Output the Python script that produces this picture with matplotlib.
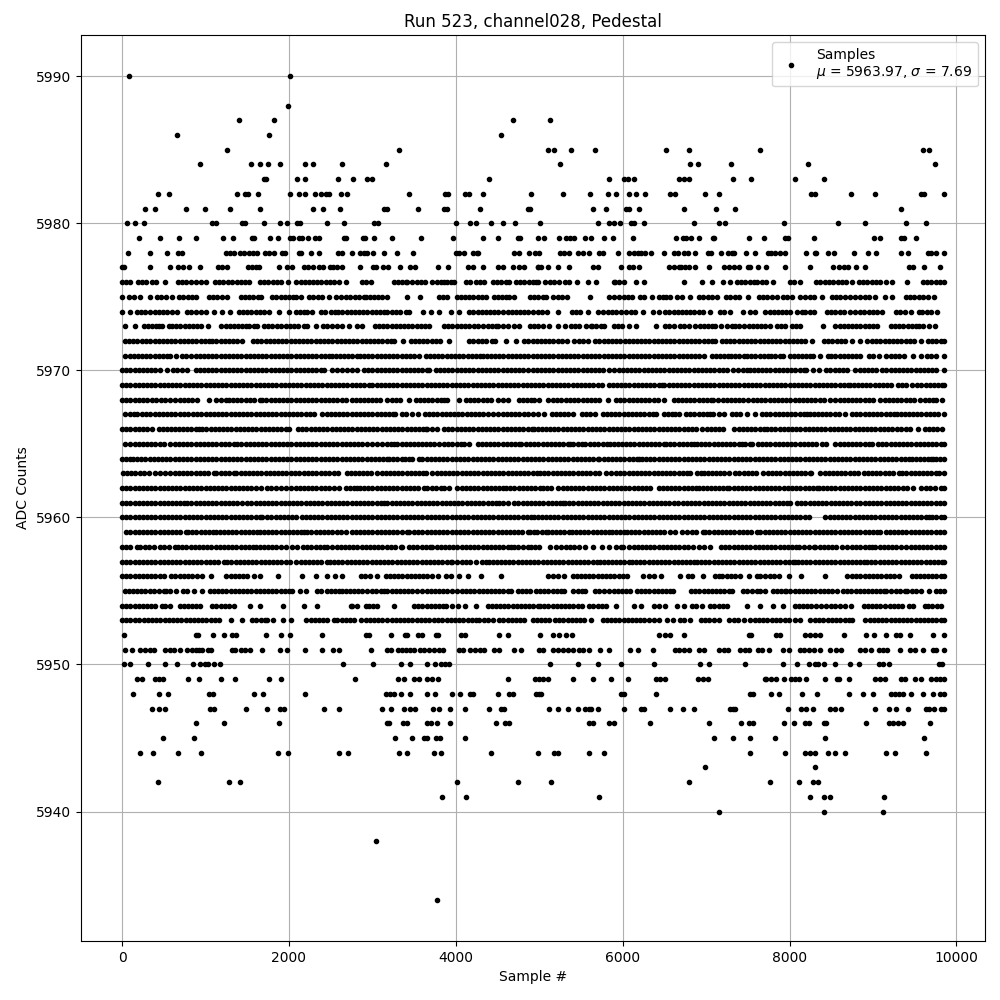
import matplotlib
matplotlib.use("Agg")
import matplotlib.pyplot as plt

# x positions of the samples at each ADC level,
# in tens of samples.
y5990 = [8, 201]
y5988 = [199]
y5987 = [140, 182, 469, 513]
y5986 = [66, 176, 454]
y5985 = [126, 332, 511, 518, 538, 567, 652, 680, 764, 960, 967]
y5984 = [93, 154, 165, 175, 189, 219, 229, 264, 316, 525, 681, 690, 730, 822, 974]
y5983 = [170, 173, 210, 219, 259, 277, 294, 300, 440, 584, 601, 606, 614, 668, 673, 679, 732, 754, 806, 841]
y5982 = [43, 56, 138, 147, 151, 163, 201, 212, 219, 231, 238, 244, 248, 262, 270, 344, 387, 391, 411, 416, 432, 490, 529, 561, 582, 592, 608, 616, 627, 657, 663, 699, 715, 826, 831, 874, 903, 957, 961, 985]
y5981 = [28, 39, 76, 99, 129, 165, 229, 241, 261, 314, 318, 355, 386, 390, 429, 487, 489, 564, 580, 604, 608, 620, 674, 712, 735, 933]
y5980 = [6, 15, 26, 108, 112, 144, 147, 170, 189, 198, 210, 213, 246, 266, 302, 307, 400, 417, 424, 442, 456, 471, 501, 571, 584, 589, 597, 610, 613, 625, 685, 716, 723, 793, 858, 891, 940, 964]
y5979 = [20, 45, 68, 88, 121, 133, 156, 158, 177, 187, 201, 205, 212, 216, 223, 231, 236, 266, 268, 289, 291, 302, 324, 358, 397, 432, 451, 475, 477, 499, 506, 524, 532, 537, 542, 555, 562, 578, 588, 612, 664, 672, 676, 682, 691, 708, 710, 751, 769, 795, 798, 829, 901, 908, 933, 937, 952]
y5978 = [7, 34, 54, 67, 72, 124, 129, 134, 141, 146, 152, 157, 162, 171, 176, 182, 192, 195, 212, 214, 226, 236, 259, 264, 276, 285, 290, 294, 301, 314, 330, 349, 400, 404, 410, 420, 425, 427, 470, 476, 488, 495, 500, 525, 530, 536, 547, 552, 560, 572, 576, 594, 608, 613, 618, 622, 627, 634, 650, 661, 666, 673, 678, 687, 702, 706, 718, 726, 731, 734, 748, 758, 774, 778, 783, 788, 794, 820, 830, 832, 846, 853, 877, 894, 904, 934, 942, 966, 970, 975, 985]
y5977 = [0, 2, 34, 57, 67, 73, 80, 93, 115, 120, 126, 151, 156, 160, 164, 188, 198, 204, 218, 223, 229, 236, 241, 249, 253, 258, 264, 285, 301, 304, 313, 319, 333, 345, 351, 379, 391, 415, 420, 433, 450, 456, 468, 476, 482, 498, 499, 502, 511, 522, 536, 565, 571, 598, 607, 612, 619, 656, 661, 667, 670, 675, 680, 687, 703, 722, 728, 734, 740, 750, 752, 762, 772, 794, 824, 852, 859, 865, 870, 880, 891, 943, 948, 961, 980]

y5976 = [0, 5, 10, 19, 24, 29, 36, 41, 51, 67, 72, 77, 83, 88, 94, 101, 111, 116, 121, 127, 132, 138, 142, 147, 152, 165, 170, 175, 181, 186, 190, 199, 209, 214, 219, 224, 229, 234, 238, 244, 249, 254, 260, 268, 287, 292, 298, 326, 331, 336, 340, 342, 348, 353, 358, 363, 372, 377, 382, 386, 390, 394, 398, 412, 417, 424, 429, 434, 444, 449, 454, 460, 464, 472, 477, 482, 488, 492, 496, 499, 507, 513, 518, 524, 531, 536, 545, 559, 568, 589, 591, 596, 602, 616, 626, 673, 695, 707, 720, 729, 737, 742, 747, 752, 757, 761, 767, 772, 780, 800, 805, 813, 832, 837, 842, 847, 852, 858, 863, 868, 875, 883, 888, 893, 899, 904, 909, 915, 923, 941, 960, 965, 970, 975, 980, 985]
y5975 = [0, 8, 14, 22, 33, 42, 47, 53, 60, 68, 73, 79, 84, 88, 104, 109, 114, 120, 126, 142, 147, 152, 157, 163, 166, 180, 185, 190, 195, 200, 205, 209, 214, 224, 229, 235, 240, 248, 256, 262, 268, 273, 279, 284, 290, 292, 297, 302, 307, 312, 318, 342, 357, 380, 385, 390, 401, 406, 411, 416, 421, 426, 431, 436, 446, 450, 455, 460, 464, 470, 489, 494, 499, 504, 508, 517, 522, 527, 533, 561, 584, 590, 595, 601, 606, 611, 621, 625, 635, 644, 648, 652, 657, 665, 671, 681, 691, 696, 702, 707, 713, 724, 729, 735, 740, 750, 763, 768, 773, 779, 785, 792, 797, 803, 813, 818, 824, 829, 839, 851, 856, 861, 866, 872, 879, 885, 890, 895, 902, 914, 923, 939, 944, 949, 955, 960, 966, 973]
y5974 = [0, 9, 18, 23, 28, 34, 39, 44, 49, 54, 60, 66, 78, 83, 88, 95, 100, 110, 120, 129, 140, 145, 150, 155, 160, 165, 170, 176, 188, 200, 208, 213, 218, 222, 228, 238, 243, 250, 255, 259, 264, 269, 274, 279, 284, 289, 294, 299, 304, 309, 314, 318, 323, 328, 333, 340, 344, 361, 370, 380, 394, 404, 416, 421, 426, 431, 436, 441, 446, 451, 456, 462, 467, 472, 477, 482, 487, 492, 498, 503, 509, 523, 539, 544, 549, 559, 571, 576, 582, 587, 592, 598, 604, 610, 615, 624, 636, 643, 651, 656, 661, 666, 671, 676, 681, 686, 691, 696, 705, 717, 722, 729, 744, 752, 759, 771, 776, 781, 786, 791, 796, 801, 809, 815, 819, 824, 829, 845, 850, 855, 860, 865, 873, 879, 884, 889, 895, 900, 905, 911, 927, 932, 938, 946, 955, 959, 965, 970, 977]
y5973 = [4, 15, 26, 31, 36, 41, 44, 48, 56, 60, 65, 70, 75, 80, 85, 90, 95, 103, 119, 124, 129, 134, 139, 144, 148, 152, 158, 162, 170, 180, 175, 186, 191, 196, 201, 206, 211, 218, 222, 233, 241, 246, 252, 258, 264, 272, 282, 288, 303, 308, 313, 318, 323, 328, 333, 338, 343, 348, 353, 358, 363, 368, 386, 391, 396, 401, 406, 411, 416, 422, 427, 432, 438, 443, 448, 450, 456, 462, 470, 476, 489, 494, 499, 505, 512, 522, 531, 538, 543, 548, 556, 562, 563, 568, 574, 578, 589, 594, 599, 607, 616, 640, 651, 656, 662, 669, 673, 679, 687, 693, 697, 702, 707, 711, 718, 725, 731, 735, 740, 745, 751, 756, 761, 766, 771, 776, 785, 790, 795, 803, 808, 813, 840, 855, 860, 865, 870, 875, 880, 885, 890, 895, 900, 905, 921, 926, 931, 936, 942, 947, 952, 955, 960, 967, 974]
y5972 = [3, 8, 13, 18, 24, 29, 34, 39, 44, 49, 54, 59, 64, 69, 74, 79, 84, 89, 94, 99, 104, 108, 113, 118, 123, 128, 133, 138, 144, 157, 162, 167, 172, 177, 182, 187, 192, 197, 202, 207, 212, 217, 222, 227, 232, 237, 242, 247, 252, 257, 262, 267, 272, 277, 282, 287, 292, 297, 302, 307, 312, 317, 322, 326, 337, 346, 351, 356, 361, 366, 371, 376, 381, 392, 416, 421, 426, 431, 436, 443, 447, 460, 472, 482, 487, 492, 497, 502, 507, 512, 517, 522, 527, 533, 542, 548, 552, 559, 567, 572, 577, 582, 587, 592, 597, 603, 607, 612, 617, 622, 627, 632, 637, 642, 647, 652, 657, 662, 667, 672, 677, 682, 687, 692, 697, 702, 707, 711, 719, 724, 729, 734, 739, 744, 749, 754, 759, 764, 769, 774, 779, 784, 789, 794, 799, 804, 809, 814, 819, 827, 841, 846, 851, 857, 862, 867, 875, 885, 893, 899, 904, 909, 914, 919, 924, 929, 934, 939, 944, 949, 957, 966, 971, 976, 981, 985]
y5971 = [4, 9, 14, 19, 24, 29, 34, 39, 44, 49, 54, 58, 65, 72, 77, 83, 88, 93, 98, 103, 108, 113, 118, 123, 128, 133, 138, 143, 148, 153, 158, 163, 168, 173, 178, 183, 188, 193, 198, 203, 208, 213, 218, 223, 228, 233, 238, 243, 248, 252, 256, 261, 266, 271, 276, 281, 285, 290, 295, 300, 305, 310, 315, 320, 325, 330, 335, 340, 345, 350, 356, 364, 369, 374, 379, 384, 389, 394, 399, 404, 409, 414, 419, 424, 429, 432, 437, 442, 447, 452, 457, 462, 467, 472, 477, 482, 487, 492, 497, 502, 507, 512, 517, 522, 527, 532, 537, 542, 547, 552, 557, 562, 567, 572, 577, 582, 587, 592, 597, 602, 607, 612, 617, 622, 627, 632, 637, 642, 647, 652, 657, 662, 667, 672, 677, 682, 687, 692, 697, 707, 712, 717, 722, 726, 730, 735, 740, 745, 749, 754, 759, 764, 769, 774, 778, 782, 788, 792, 800, 805, 810, 815, 820, 824, 828, 837, 846, 850, 855, 860, 865, 870, 875, 880, 885, 895, 900, 907, 916, 921, 926, 931, 937, 948, 957, 965, 970, 975, 985]
y5970 = [0, 5, 10, 15, 20, 25, 30, 35, 40, 45, 54, 61, 66, 72, 78, 88, 93, 98, 103, 108, 113, 118, 123, 128, 133, 138, 143, 148, 153, 158, 163, 168, 173, 178, 183, 188, 193, 198, 203, 208, 213, 218, 223, 228, 233, 238, 242, 251, 258, 264, 270, 276, 282, 290, 295, 300, 305, 310, 315, 320, 325, 330, 335, 340, 345, 350, 355, 360, 365, 368, 376, 381, 386, 391, 396, 401, 406, 411, 416, 421, 426, 431, 436, 441, 446, 451, 456, 461, 466, 471, 476, 481, 486, 492, 497, 502, 507, 512, 517, 522, 527, 532, 537, 542, 547, 552, 557, 562, 567, 572, 576, 584, 590, 595, 600, 605, 610, 615, 620, 625, 630, 635, 640, 645, 650, 655, 660, 665, 670, 675, 680, 685, 690, 695, 700, 705, 710, 715, 720, 725, 732, 738, 744, 749, 752, 757, 762, 767, 772, 777, 782, 787, 792, 797, 802, 807, 812, 817, 820, 828, 835, 844, 849, 854, 859, 864, 869, 879, 884, 889, 894, 899, 904, 911, 916, 921, 926, 931, 936, 941, 946, 951, 956, 961, 966, 971, 976, 985]
y5969 = [0, 5, 10, 15, 20, 25, 30, 35, 40, 45, 50, 55, 60, 65, 70, 75, 80, 85, 90, 95, 100, 105, 110, 115, 120, 125, 130, 135, 140, 145, 150, 155, 160, 165, 170, 175, 180, 185, 190, 195, 200, 205, 210, 215, 220, 225, 230, 235, 240, 245, 250, 255, 260, 265, 270, 275, 280, 285, 290, 296, 300, 305, 310, 315, 320, 325, 330, 335, 340, 345, 350, 355, 360, 365, 370, 375, 380, 385, 390, 395, 400, 405, 410, 415, 420, 425, 430, 435, 440, 445, 450, 455, 460, 465, 470, 475, 480, 485, 490, 495, 500, 505, 510, 515, 520, 525, 530, 535, 540, 545, 550, 555, 560, 565, 570, 575, 583, 588, 593, 598, 603, 608, 613, 618, 623, 628, 633, 638, 643, 647, 650, 655, 660, 665, 670, 675, 680, 685, 690, 695, 700, 705, 710, 715, 720, 725, 730, 735, 740, 745, 750, 755, 760, 765, 770, 775, 780, 785, 790, 795, 800, 805, 810, 815, 820, 825, 830, 835, 840, 845, 850, 855, 860, 865, 870, 873, 877, 882, 887, 892, 897, 902, 907, 912, 917, 922, 930, 935, 940, 947, 953, 958, 963, 968, 973, 978, 983, 985]
y5968 = [0, 5, 10, 15, 20, 25, 30, 36, 41, 47, 52, 58, 64, 69, 74, 79, 84, 90, 104, 112, 118, 124, 128, 133, 138, 143, 148, 153, 158, 165, 168, 173, 178, 183, 188, 193, 198, 203, 208, 213, 218, 223, 228, 233, 238, 243, 248, 253, 258, 263, 268, 276, 280, 285, 290, 295, 300, 304, 309, 318, 323, 328, 333, 344, 352, 357, 362, 367, 372, 377, 382, 386, 390, 404, 412, 417, 422, 427, 432, 437, 442, 450, 456, 462, 476, 480, 485, 490, 494, 500, 511, 516, 521, 526, 532, 537, 542, 547, 552, 557, 562, 567, 572, 582, 592, 597, 602, 607, 612, 617, 622, 627, 632, 637, 642, 649, 662, 666, 671, 676, 681, 686, 691, 696, 701, 706, 708, 714, 720, 725, 730, 735, 739, 744, 750, 756, 761, 766, 771, 776, 781, 786, 791, 796, 801, 806, 811, 816, 821, 826, 831, 836, 841, 849, 855, 860, 865, 870, 875, 880, 885, 890, 895, 900, 909, 914, 919, 924, 929, 934, 939, 944, 949, 956, 962, 967, 972, 976, 983]
y5967 = [4, 9, 14, 18, 24, 29, 34, 39, 44, 49, 54, 59, 64, 69, 74, 79, 85, 90, 95, 100, 105, 110, 115, 120, 125, 130, 135, 140, 145, 150, 155, 160, 165, 170, 175, 180, 185, 190, 195, 200, 205, 210, 215, 220, 225, 230, 240, 245, 250, 255, 260, 265, 270, 275, 280, 285, 290, 295, 300, 305, 310, 315, 320, 325, 327, 335, 340, 348, 355, 363, 368, 373, 378, 383, 388, 393, 398, 403, 408, 413, 418, 423, 428, 433, 438, 445, 451, 456, 461, 466, 471, 476, 482, 487, 493, 498, 506, 515, 520, 525, 530, 535, 540, 551, 556, 561, 567, 576, 581, 586, 591, 596, 601, 606, 611, 616, 621, 626, 631, 636, 640, 649, 654, 659, 663, 668, 676, 681, 686, 691, 696, 701, 705, 708, 716, 722, 731, 736, 741, 749, 759, 767, 772, 777, 782, 787, 792, 797, 802, 807, 812, 817, 821, 824, 829, 834, 839, 844, 849, 854, 859, 867, 875, 880, 885, 890, 895, 900, 905, 910, 915, 920, 925, 929, 933, 938, 943, 948, 953, 958, 963, 968, 973, 978, 985]
y5966 = [0, 5, 10, 15, 20, 25, 30, 36, 44, 49, 54, 59, 64, 68, 73, 78, 83, 88, 92, 96, 101, 106, 111, 116, 121, 126, 131, 136, 141, 146, 151, 156, 161, 166, 171, 176, 181, 186, 191, 196, 200, 211, 216, 221, 226, 231, 236, 241, 246, 251, 256, 261, 266, 271, 276, 281, 286, 291, 296, 301, 306, 311, 316, 321, 326, 331, 336, 341, 346, 351, 356, 361, 364, 366, 371, 378, 386, 391, 396, 401, 406, 411, 416, 421, 426, 431, 436, 441, 446, 451, 456, 461, 466, 471, 476, 480, 486, 491, 494, 498, 503, 508, 513, 518, 523, 528, 533, 538, 543, 548, 553, 558, 563, 568, 573, 578, 583, 588, 593, 598, 603, 608, 613, 618, 623, 628, 633, 638, 643, 648, 653, 658, 663, 668, 673, 678, 683, 688, 695, 701, 706, 711, 716, 720, 734, 739, 744, 749, 754, 759, 764, 769, 773, 778, 783, 788, 793, 798, 803, 808, 813, 818, 823, 828, 833, 838, 843, 848, 853, 858, 863, 868, 873, 878, 883, 888, 893, 898, 903, 908, 913, 918, 923, 929, 934, 939, 944, 954, 962, 967, 972, 977, 983]
y5965 = [4, 10, 16, 20, 25, 30, 35, 40, 45, 50, 58, 63, 68, 73, 78, 83, 88, 93, 98, 103, 108, 113, 118, 123, 128, 134, 138, 143, 148, 153, 158, 163, 168, 173, 178, 183, 188, 193, 198, 203, 208, 213, 218, 223, 228, 233, 238, 243, 248, 253, 258, 263, 268, 273, 278, 283, 288, 294, 299, 306, 312, 317, 322, 326, 330, 335, 340, 345, 350, 355, 360, 364, 369, 374, 380, 386, 391, 396, 401, 406, 410, 416, 426, 431, 436, 441, 446, 451, 456, 461, 466, 471, 476, 478, 484, 489, 494, 499, 504, 509, 514, 519, 524, 529, 534, 537, 541, 546, 551, 555, 561, 566, 571, 576, 581, 585, 589, 594, 599, 604, 609, 614, 619, 624, 629, 634, 639, 644, 649, 652, 657, 662, 667, 672, 677, 682, 685, 689, 694, 699, 704, 709, 714, 719, 724, 729, 734, 739, 743, 747, 752, 755, 762, 767, 772, 777, 782, 787, 792, 797, 802, 807, 812, 817, 822, 827, 832, 839, 844, 855, 860, 865, 870, 875, 880, 885, 890, 895, 899, 906, 911, 916, 921, 926, 931, 936, 941, 946, 951, 956, 961, 966, 971, 976, 981, 985]
y5964 = [0, 5, 10, 13, 18, 23, 28, 33, 38, 43, 48, 53, 58, 63, 68, 73, 78, 83, 88, 93, 98, 103, 108, 113, 118, 123, 128, 133, 138, 143, 148, 153, 158, 163, 168, 173, 178, 183, 188, 193, 198, 203, 208, 213, 218, 223, 228, 233, 238, 243, 248, 253, 258, 263, 268, 273, 278, 283, 288, 293, 298, 303, 308, 313, 318, 320, 325, 330, 335, 339, 344, 348, 356, 360, 365, 370, 375, 380, 385, 390, 395, 400, 405, 410, 415, 420, 425, 430, 435, 440, 445, 450, 455, 460, 465, 470, 475, 480, 485, 490, 495, 500, 505, 510, 515, 520, 525, 530, 535, 540, 545, 550, 555, 560, 565, 570, 572, 577, 582, 587, 592, 597, 602, 607, 612, 617, 620, 623, 628, 633, 638, 643, 648, 653, 658, 663, 668, 673, 678, 683, 688, 693, 698, 703, 708, 713, 718, 723, 728, 733, 738, 743, 748, 753, 758, 763, 768, 773, 778, 783, 788, 793, 798, 803, 808, 813, 818, 823, 828, 833, 838, 843, 848, 853, 858, 863, 868, 873, 878, 883, 888, 893, 898, 903, 908, 913, 918, 923, 928, 933, 938, 943, 947, 951, 956, 961, 966, 969, 972, 976, 980, 985]
y5963 = [1, 6, 11, 16, 21, 26, 32, 40, 45, 52, 58, 63, 68, 73, 78, 83, 88, 93, 98, 103, 110, 113, 118, 123, 128, 134, 137, 142, 147, 152, 157, 162, 167, 172, 177, 182, 187, 192, 197, 202, 207, 212, 218, 223, 228, 233, 238, 243, 248, 254, 259, 269, 274, 279, 284, 289, 294, 298, 306, 311, 316, 321, 326, 331, 336, 341, 346, 351, 356, 361, 364, 372, 377, 382, 387, 392, 397, 402, 407, 412, 417, 422, 427, 432, 437, 442, 447, 452, 457, 462, 467, 472, 477, 482, 487, 492, 497, 501, 506, 511, 516, 521, 526, 531, 536, 541, 546, 551, 556, 561, 567, 572, 580, 586, 592, 597, 602, 607, 612, 617, 622, 627, 632, 637, 642, 647, 652, 657, 662, 667, 672, 677, 681, 689, 694, 697, 702, 707, 712, 717, 722, 728, 735, 740, 745, 750, 755, 760, 768, 774, 779, 784, 789, 794, 799, 804, 809, 814, 819, 824, 826, 837, 842, 847, 852, 857, 862, 867, 872, 877, 882, 889, 894, 899, 904, 909, 914, 919, 924, 931, 935, 940, 945, 950, 955, 960, 965, 970, 975, 979, 985]
y5962 = [0, 5, 10, 15, 20, 25, 30, 35, 40, 45, 50, 55, 60, 65, 70, 75, 80, 85, 90, 95, 100, 105, 110, 115, 120, 125, 130, 135, 140, 145, 150, 155, 160, 166, 174, 179, 184, 190, 197, 203, 208, 213, 218, 223, 228, 233, 238, 243, 248, 254, 260, 268, 273, 278, 282, 285, 290, 295, 300, 305, 310, 315, 320, 325, 330, 335, 340, 345, 350, 355, 362, 366, 371, 376, 382, 386, 392, 401, 407, 412, 417, 422, 427, 432, 437, 442, 447, 452, 456, 460, 465, 470, 476, 480, 485, 490, 495, 501, 504, 509, 514, 523, 528, 533, 538, 543, 548, 553, 558, 563, 568, 573, 578, 583, 588, 593, 598, 603, 608, 613, 618, 623, 628, 633, 643, 648, 653, 658, 663, 668, 673, 678, 683, 688, 692, 696, 701, 706, 711, 716, 720, 725, 728, 733, 738, 743, 748, 753, 758, 763, 768, 773, 778, 783, 787, 793, 798, 803, 808, 813, 818, 823, 828, 833, 835, 840, 845, 850, 855, 860, 865, 870, 875, 880, 885, 890, 895, 900, 905, 910, 915, 920, 925, 930, 936, 941, 948, 958, 963, 968, 974, 982, 985]
y5961 = [0, 5, 10, 15, 20, 25, 30, 35, 40, 45, 50, 55, 60, 65, 70, 74, 78, 83, 88, 93, 98, 103, 108, 113, 118, 123, 128, 133, 138, 144, 150, 155, 160, 165, 170, 175, 180, 185, 190, 195, 200, 205, 210, 215, 220, 225, 230, 235, 240, 245, 250, 255, 260, 265, 270, 275, 280, 285, 290, 295, 300, 305, 310, 314, 318, 323, 328, 333, 338, 343, 348, 353, 358, 363, 368, 373, 378, 383, 388, 393, 398, 403, 408, 413, 418, 423, 428, 433, 438, 443, 448, 452, 456, 462, 470, 475, 480, 485, 490, 495, 500, 505, 510, 515, 520, 525, 528, 531, 536, 541, 546, 551, 556, 561, 566, 571, 576, 581, 586, 591, 596, 601, 606, 611, 616, 621, 626, 631, 636, 641, 646, 651, 656, 661, 666, 672, 677, 682, 687, 692, 697, 702, 707, 712, 717, 722, 727, 732, 737, 742, 747, 752, 757, 762, 767, 772, 777, 782, 787, 792, 797, 801, 809, 814, 819, 824, 829, 834, 839, 844, 850, 854, 859, 864, 869, 874, 880, 885, 890, 895, 900, 905, 910, 915, 920, 925, 930, 935, 940, 945, 950, 955, 960, 965, 970, 975, 980, 985]
y5960 = [0, 5, 10, 15, 20, 25, 30, 35, 40, 45, 50, 55, 60, 65, 70, 75, 80, 85, 90, 95, 100, 105, 110, 115, 120, 125, 130, 135, 140, 145, 150, 155, 160, 165, 168, 174, 179, 184, 189, 194, 199, 204, 209, 216, 220, 225, 230, 235, 240, 245, 250, 255, 260, 265, 270, 275, 280, 285, 290, 295, 300, 305, 310, 315, 320, 325, 330, 335, 340, 345, 350, 355, 360, 365, 370, 375, 380, 385, 390, 395, 400, 405, 410, 415, 420, 425, 430, 435, 440, 445, 450, 455, 460, 465, 470, 475, 480, 485, 490, 494, 498, 503, 508, 513, 518, 523, 528, 533, 538, 543, 548, 553, 558, 563, 568, 573, 578, 583, 588, 593, 598, 603, 608, 613, 618, 623, 628, 633, 638, 643, 648, 653, 658, 663, 668, 673, 678, 683, 688, 693, 698, 703, 708, 713, 718, 723, 728, 733, 738, 743, 748, 753, 758, 763, 768, 773, 778, 783, 788, 793, 798, 803, 808, 813, 818, 823, 843, 848, 853, 858, 863, 868, 873, 878, 883, 888, 893, 898, 903, 908, 913, 918, 923, 928, 933, 938, 943, 948, 953, 958, 963, 967, 971, 976, 981, 985]
y5959 = [5, 10, 15, 20, 25, 30, 35, 40, 45, 50, 55, 60, 65, 70, 76, 79, 84, 89, 94, 99, 104, 109, 112, 117, 122, 127, 132, 137, 142, 147, 152, 157, 162, 165, 170, 175, 180, 185, 190, 195, 200, 205, 210, 215, 218, 222, 227, 232, 237, 242, 247, 252, 257, 262, 268, 275, 280, 285, 290, 295, 300, 305, 310, 315, 320, 325, 330, 335, 342, 344, 350, 355, 360, 365, 370, 375, 380, 385, 390, 395, 400, 405, 410, 415, 420, 425, 430, 435, 440, 445, 450, 455, 460, 465, 470, 474, 479, 486, 489, 494, 497, 503, 508, 511, 515, 520, 525, 530, 536, 539, 544, 549, 554, 559, 564, 569, 574, 579, 583, 587, 592, 597, 601, 605, 610, 615, 620, 625, 630, 635, 640, 645, 650, 657, 663, 671, 677, 683, 688, 696, 699, 704, 709, 714, 719, 724, 729, 734, 739, 744, 749, 754, 761, 765, 770, 775, 780, 785, 790, 795, 800, 805, 810, 815, 820, 825, 830, 835, 840, 845, 850, 855, 860, 865, 870, 875, 880, 885, 890, 895, 900, 905, 909, 915, 920, 925, 930, 935, 940, 945, 950, 955, 960, 965, 970, 975, 980, 985]
y5958 = [0, 5, 10, 18, 21, 27, 32, 38, 45, 50, 56, 63, 67, 72, 77, 82, 87, 92, 97, 102, 107, 112, 117, 122, 127, 132, 137, 142, 147, 152, 157, 160, 165, 170, 175, 180, 185, 190, 197, 204, 210, 217, 222, 227, 232, 237, 242, 246, 252, 257, 262, 267, 272, 277, 282, 287, 292, 297, 302, 307, 312, 317, 322, 327, 334, 336, 344, 349, 354, 359, 364, 369, 372, 377, 382, 387, 392, 397, 402, 407, 412, 417, 422, 427, 432, 437, 442, 447, 452, 457, 462, 466, 470, 475, 480, 486, 490, 495, 500, 513, 520, 526, 532, 537, 542, 548, 555, 564, 575, 583, 592, 598, 600, 608, 613, 618, 623, 628, 633, 638, 643, 648, 653, 658, 663, 668, 673, 678, 684, 692, 698, 705, 718, 723, 728, 733, 738, 743, 748, 753, 758, 763, 768, 773, 778, 783, 788, 793, 798, 803, 808, 811, 817, 823, 829, 831, 836, 841, 846, 851, 856, 863, 869, 875, 880, 885, 890, 895, 899, 903, 908, 913, 918, 923, 928, 934, 940, 945, 950, 955, 960, 965, 970, 975, 980, 985]
y5957 = [0, 5, 10, 15, 20, 25, 30, 35, 40, 45, 50, 55, 60, 65, 70, 75, 80, 85, 90, 95, 100, 105, 110, 115, 122, 126, 131, 136, 141, 146, 151, 156, 161, 166, 171, 176, 181, 186, 191, 196, 201, 208, 214, 219, 224, 229, 234, 238, 246, 249, 254, 259, 264, 269, 274, 279, 284, 289, 294, 299, 304, 309, 314, 319, 324, 329, 334, 339, 344, 349, 354, 359, 364, 369, 374, 379, 384, 389, 394, 396, 402, 407, 412, 417, 424, 431, 436, 440, 444, 449, 454, 459, 464, 469, 474, 479, 484, 489, 494, 499, 504, 509, 514, 519, 524, 529, 534, 539, 544, 549, 554, 559, 564, 569, 573, 577, 582, 587, 592, 597, 602, 607, 611, 616, 621, 626, 631, 636, 641, 646, 651, 656, 661, 666, 671, 676, 681, 685, 689, 694, 699, 704, 709, 714, 719, 724, 729, 734, 739, 744, 749, 754, 759, 764, 769, 774, 779, 784, 789, 794, 799, 804, 807, 810, 815, 820, 825, 830, 835, 840, 845, 850, 855, 860, 865, 870, 875, 880, 885, 889, 893, 898, 903, 908, 913, 918, 923, 928, 933, 938, 943, 948, 953, 958, 963, 968, 973, 978, 983, 985]
y5956 = [0, 5, 10, 15, 20, 25, 30, 35, 40, 45, 50, 59, 64, 69, 74, 79, 84, 90, 96, 106, 125, 130, 135, 140, 145, 150, 158, 165, 187, 216, 232, 246, 255, 264, 286, 291, 297, 306, 316, 321, 326, 331, 336, 341, 346, 351, 356, 361, 366, 372, 379, 388, 394, 404, 415, 430, 454, 510, 517, 523, 530, 540, 545, 550, 555, 560, 565, 570, 575, 580, 585, 590, 595, 600, 605, 624, 631, 637, 646, 669, 678, 683, 696, 711, 715, 719, 725, 730, 735, 741, 751, 761, 765, 771, 776, 781, 787, 799, 814, 842, 869, 875, 880, 885, 890, 895, 900, 905, 910, 915, 920, 925, 931, 947, 951, 956, 961, 966, 971, 976, 981, 985]
y5955 = [3, 8, 13, 18, 23, 28, 34, 38, 44, 50, 53, 57, 65, 73, 78, 86, 96, 105, 110, 115, 120, 125, 130, 135, 140, 145, 150, 155, 160, 165, 170, 175, 180, 185, 190, 195, 200, 204, 213, 220, 234, 239, 245, 250, 255, 260, 264, 268, 273, 278, 283, 288, 293, 299, 304, 310, 314, 318, 323, 328, 333, 338, 343, 348, 353, 360, 365, 370, 375, 380, 385, 390, 395, 402, 407, 412, 417, 422, 428, 433, 437, 442, 447, 452, 457, 462, 466, 474, 479, 484, 489, 496, 501, 506, 511, 516, 521, 526, 530, 541, 546, 551, 555, 567, 572, 578, 583, 589, 594, 599, 604, 609, 617, 622, 627, 632, 637, 642, 647, 652, 657, 660, 682, 687, 692, 697, 702, 707, 712, 717, 722, 727, 731, 744, 749, 755, 761, 765, 770, 780, 785, 790, 795, 796, 801, 806, 811, 816, 821, 826, 831, 836, 841, 846, 851, 857, 864, 869, 874, 880, 885, 889, 894, 899, 904, 909, 913, 916, 922, 927, 932, 938, 941, 947, 952, 958, 967, 975, 980, 985]
y5954 = [0, 5, 10, 15, 20, 25, 30, 35, 40, 48, 52, 57, 69, 74, 79, 84, 89, 93, 108, 113, 118, 123, 128, 134, 153, 165, 193, 218, 234, 274, 276, 282, 292, 296, 301, 306, 326, 350, 355, 360, 365, 370, 375, 380, 385, 388, 396, 403, 411, 424, 439, 443, 448, 453, 458, 463, 468, 473, 478, 483, 488, 493, 498, 501, 506, 511, 516, 521, 526, 531, 536, 541, 546, 551, 560, 565, 570, 575, 580, 592, 614, 622, 638, 643, 651, 665, 674, 683, 688, 695, 705, 710, 715, 720, 725, 749, 764, 780, 792, 806, 811, 816, 821, 826, 832, 838, 844, 850, 855, 860, 866, 874, 889, 894, 899, 904, 909, 914, 920, 925, 930, 935, 943, 948, 962, 966, 971, 977, 982]
y5953 = [0, 5, 10, 15, 20, 26, 31, 36, 41, 46, 51, 56, 61, 66, 71, 76, 81, 86, 91, 96, 101, 106, 111, 116, 130, 144, 156, 161, 166, 171, 174, 181, 193, 203, 221, 226, 231, 236, 241, 246, 254, 258, 263, 268, 273, 278, 286, 292, 297, 302, 307, 312, 318, 323, 328, 333, 338, 343, 348, 353, 358, 363, 368, 374, 379, 384, 389, 394, 399, 404, 409, 414, 419, 424, 428, 434, 439, 444, 452, 457, 462, 467, 472, 477, 482, 493, 497, 502, 507, 512, 519, 524, 529, 534, 539, 544, 549, 554, 562, 576, 581, 586, 591, 596, 601, 606, 611, 616, 621, 626, 631, 637, 643, 653, 660, 669, 674, 681, 694, 699, 704, 709, 715, 728, 733, 738, 745, 753, 758, 763, 768, 773, 779, 784, 789, 794, 799, 806, 812, 825, 830, 835, 840, 846, 851, 856, 861, 866, 871, 875, 891, 896, 901, 906, 911, 916, 921, 926, 931, 936, 941, 946, 951, 956, 961, 966, 971, 976, 981, 985]

y5952 = [2, 88, 91, 109, 122, 132, 136, 172, 190, 201, 240, 292, 296, 322, 339, 342, 355, 360, 376, 379, 406, 411, 452, 462, 501, 517, 524, 532, 539, 644, 651, 657, 673, 751, 754, 784, 789, 818, 824, 830, 837, 865, 892, 901, 916, 927, 932, 944, 972, 985]
y5951 = [3, 12, 22, 27, 33, 38, 51, 58, 62, 69, 78, 84, 88, 92, 96, 103, 106, 132, 135, 142, 147, 153, 168, 189, 198, 219, 240, 253, 260, 298, 317, 322, 331, 336, 340, 345, 350, 357, 362, 368, 374, 380, 385, 404, 409, 417, 423, 429, 434, 446, 452, 470, 478, 500, 505, 516, 522, 529, 534, 541, 548, 553, 560, 573, 584, 609, 618, 636, 663, 668, 673, 680, 692, 697, 716, 721, 726, 741, 746, 751, 762, 767, 775, 792, 799, 812, 817, 823, 829, 836, 848, 856, 862, 885, 890, 898, 907, 912, 917, 932, 944, 950, 960, 972, 976, 985]
y5950 = [2, 10, 31, 51, 66, 85, 93, 99, 103, 110, 117, 265, 301, 334, 345, 365, 375, 382, 387, 392, 513, 547, 571, 598, 638, 693, 704, 747, 792, 823, 809, 830, 834, 841, 855, 873, 883, 907, 912, 919, 979, 983]
y5949 = [18, 24, 39, 44, 49, 79, 92, 118, 135, 176, 190, 279, 331, 338, 350, 356, 366, 372, 379, 463, 495, 500, 505, 511, 540, 565, 586, 606, 640, 645, 651, 690, 696, 702, 770, 772, 778, 784, 793, 802, 807, 811, 820, 842, 857, 859, 871, 902, 908, 914, 933, 938, 950, 958, 970, 975, 980, 985]
y5948 = [13, 44, 55, 104, 109, 158, 169, 219, 316, 321, 326, 334, 345, 365, 375, 395, 405, 417, 421, 450, 464, 469, 496, 500, 502, 598, 602, 640, 752, 756, 778, 787, 815, 833, 871, 888, 900, 921, 926, 931, 936, 946, 960, 972, 980, 985]
y5947 = [36, 44, 52, 105, 110, 148, 174, 189, 194, 242, 260, 312, 322, 338, 345, 351, 373, 380, 393, 411, 440, 454, 458, 512, 522, 534, 546, 555, 560, 562, 570, 601, 622, 626, 657, 672, 685, 729, 732, 735, 798, 814, 820, 828, 849, 854, 862, 903, 919, 927, 942, 964, 967, 973, 981, 985]
y5946 = [88, 122, 188, 318, 320, 337, 342, 366, 370, 378, 393, 448, 459, 464, 560, 564, 584, 589, 633, 703, 742, 751, 756, 793, 805, 819, 823, 841, 844, 892, 919, 924, 930, 936, 968]
y5945 = [49, 86, 327, 348, 362, 366, 376, 381, 411, 709, 732, 753, 783, 842, 961]
y5944 = [21, 37, 67, 94, 187, 199, 260, 271, 332, 342, 374, 382, 442, 499, 518, 523, 560, 577, 753, 794, 819, 824, 830, 846, 854, 867, 916, 926, 963]
y5943 = [699, 830]
y5942 = [43, 128, 141, 402, 475, 514, 679, 777, 811, 828, 834]
y5941 = [384, 412, 572, 824, 841, 849, 913]
y5940 = [716, 841, 912]
y5938 = [304]
y5934 = [378]

level_values = [5990, 5988, 5987, 5986, 5985, 5984, 5983, 5982, 5981, 5980, 5979, 5978, 5977,
                5976, 5975, 5974, 5973, 5972, 5971, 5970, 5969, 5968, 5967, 5966, 5965,
                5964, 5963, 5962, 5961, 5960, 5959, 5958, 5957, 5956, 5955, 5954, 5953,
                5952, 5951, 5950, 5949, 5948, 5947, 5946, 5945, 5944, 5943, 5942, 5941,
                5940, 5938, 5934]
level_rows = [y5990, y5988, y5987, y5986, y5985, y5984, y5983, y5982, y5981, y5980, y5979, y5978, y5977,
              y5976, y5975, y5974, y5973, y5972, y5971, y5970, y5969, y5968, y5967, y5966, y5965,
              y5964, y5963, y5962, y5961, y5960, y5959, y5958, y5957, y5956, y5955, y5954, y5953,
              y5952, y5951, y5950, y5949, y5948, y5947, y5946, y5945, y5944, y5943, y5942, y5941,
              y5940, y5938, y5934]
TENS = 10

title = "Run 523, channel028, Pedestal"
legend_label = "Samples\n$\\mu$ = 5963.97, $\\sigma$ = 7.69"

xs, ys = [], []
for level, row in zip(level_values, level_rows):
    for x in row:
        xs.append(x * TENS)
        ys.append(level)

fig, ax = plt.subplots(figsize=(10, 10), dpi=100)
ax.plot(xs, ys, "k.", label=legend_label)
ax.set_title(title)
ax.set_xlabel("Sample #")
ax.set_ylabel("ADC Counts")
ax.grid(True)
ax.legend(loc="upper right")
fig.subplots_adjust(left=0.081, right=0.985, top=0.965, bottom=0.059)
fig.savefig("out.png", dpi=100)
